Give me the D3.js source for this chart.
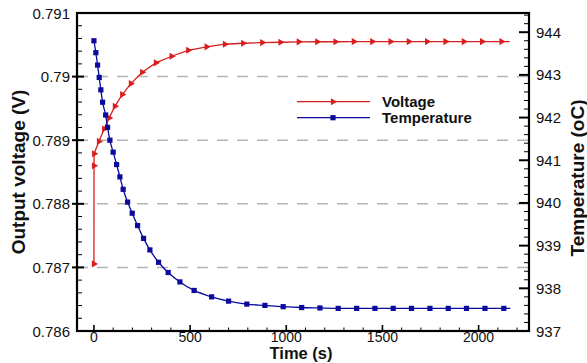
<!DOCTYPE html>
<html><head><meta charset="utf-8">
<script src="https://cdn.jsdelivr.net/npm/d3@7"></script>
<style>body{margin:0;background:#fff}svg{display:block}text{font-family:"Liberation Sans",Arial,sans-serif}</style>
</head><body><svg id="c" width="587" height="363"></svg>
<script>
// ---- data ----
const voltTime = [0, 0.5, 1, 26, 53, 79, 109, 147, 192, 251, 322, 404, 490, 586, 681, 776, 875, 970, 1065, 1161, 1256, 1351, 1447, 1542, 1637, 1732, 1828, 1923, 2018, 2119, 2162];
const voltage  = [0.787055, 0.788598, 0.788787, 0.788981, 0.789176, 0.78935, 0.789532, 0.789717, 0.78989, 0.790068, 0.790216, 0.79032, 0.790414, 0.790468, 0.790509, 0.790524, 0.790535, 0.79054, 0.790546, 0.790548, 0.790548, 0.79055, 0.79055, 0.79055, 0.79055, 0.79055, 0.79055, 0.79055, 0.79055, 0.79055, 0.79055];
const tempTime = [0, 10, 19, 27.5, 36, 45, 61, 71, 83, 100, 118, 135, 152, 175, 199, 227, 258, 291, 336, 386, 447, 521, 612, 700, 795, 889, 984, 1080, 1175, 1270, 1366, 1461, 1556, 1651, 1747, 1842, 1937, 2033, 2131, 2165];
const temperature = [943.80, 943.52, 943.23, 942.94, 942.65, 942.36, 942.06, 941.77, 941.47, 941.19, 940.90, 940.61, 940.32, 940.02, 939.76, 939.47, 939.17, 938.90, 938.61, 938.37, 938.15, 937.95, 937.80, 937.70, 937.63, 937.60, 937.57, 937.55, 937.54, 937.53, 937.53, 937.53, 937.53, 937.53, 937.53, 937.53, 937.53, 937.53, 937.53, 937.53];
const xTicks = [0, 500, 1000, 1500, 2000];
const vTicks = [0.786, 0.787, 0.788, 0.789, 0.79, 0.791];
const vTickLabels = ["0.786", "0.787", "0.788", "0.789", "0.79", "0.791"];
const tTicks = [937, 938, 939, 940, 941, 942, 943, 944];
const gridV = [0.787, 0.788, 0.789, 0.79];
const seriesNames = ["Voltage", "Temperature"];
const xLabel = "Time (s)", yLabel = "Output voltage (V)", y2Label = "Temperature (oC)";

// ---- layout ----
const L = 77, R = 529, T = 13, B = 331;
const red = "#d81e1e", blue = "#0a0a9e";
const svg = d3.select("#c");
const x = d3.scaleLinear().domain([-88, 2262]).range([L, R]);
const yV = d3.scaleLinear().domain([0.786, 0.791]).range([B, T]);
const yT = d3.scaleLinear().domain([937, 944.45]).range([B, T]);

// gridlines
svg.append("g").selectAll("line").data(gridV).join("line")
  .attr("x1", L).attr("x2", R).attr("y1", d => yV(d)).attr("y2", d => yV(d))
  .attr("stroke", "#b4b4b4").attr("stroke-width", 1.5).attr("stroke-dasharray", "11,9").attr("stroke-dashoffset", -20);

// axes (ticks)
const ax = svg.append("g").attr("stroke", "#000");
const xMinor = d3.range(0, 2300, 100).filter(v => x(v) > L + 1 && x(v) < R - 1);
ax.selectAll(".xm").data(xMinor).join("line")
  .attr("x1", d => x(d)).attr("x2", d => x(d)).attr("y1", B).attr("y2", d => xTicks.includes(d) ? B - 6 : B - 3.5).attr("stroke-width", d => xTicks.includes(d) ? 1.6 : 1);
const vMinor = d3.range(0, 26).map(i => 0.786 + i * 0.0002);
ax.selectAll(".vm").data(vMinor).join("line")
  .attr("x1", L).attr("x2", (d, i) => i % 5 === 0 ? L + 7 : L + 5).attr("y1", d => yV(d)).attr("y2", d => yV(d))
  .attr("stroke-width", (d, i) => i % 5 === 0 ? 2 : 1);
ax.selectAll(".vM").data(vTicks.slice(1, 5)).join("line")
  .attr("x1", L - 5).attr("x2", L).attr("y1", d => yV(d)).attr("y2", d => yV(d)).attr("stroke-width", 2);
const tMinor = d3.range(0, 38).map(i => 937 + i * 0.2).filter(v => yT(v) > T + 1);
ax.selectAll(".tm").data(tMinor).join("line")
  .attr("x1", (d, i) => i % 5 === 0 ? R - 10 : R - 5).attr("x2", R).attr("y1", d => yT(d)).attr("y2", d => yT(d))
  .attr("stroke-width", (d, i) => i % 5 === 0 ? 2 : 1);

// frame
svg.append("rect").attr("x", L).attr("y", T).attr("width", R - L).attr("height", B - T)
  .attr("fill", "none").attr("stroke", "#000").attr("stroke-width", 2.2);

// tick labels
const tl = svg.append("g").attr("font-size", 15).attr("fill", "#111");
tl.selectAll(".xl").data(xTicks).join("text").attr("x", d => x(d)).attr("y", 341.5).attr("font-size", 14).attr("text-anchor", "middle").text(d => d);
tl.selectAll(".vl").data(vTicks).join("text").attr("x", 70).attr("y", d => yV(d) + 5.5).attr("text-anchor", "end").text((d, i) => vTickLabels[i]);
tl.selectAll(".tl").data(tTicks).join("text").attr("x", 536).attr("y", d => yT(d) + 5.5).text(d => d);

// titles
svg.append("text").attr("x", 301).attr("y", 359.4).attr("text-anchor", "middle").attr("font-size", 16.5).attr("font-weight", "bold").attr("fill", "#111").text(xLabel);
svg.append("text").attr("transform", "translate(25,172) rotate(-90)").attr("text-anchor", "middle").attr("font-size", 19).attr("font-weight", "bold").attr("fill", "#111").text(yLabel);
svg.append("text").attr("transform", "translate(584,178) rotate(-90)").attr("text-anchor", "middle").attr("font-size", 19).attr("font-weight", "bold").attr("fill", "#111").text(y2Label);

// series
const vData = voltTime.map((t, i) => [t, voltage[i]]);
const tData = tempTime.map((t, i) => [t, temperature[i]]);
const lineV = d3.line().x(d => x(d[0])).y(d => yV(d[1]));
const lineT = d3.line().x(d => x(d[0])).y(d => yT(d[1])).curve(d3.curveMonotoneX);
svg.append("path").datum(vData).attr("d", lineV).attr("fill", "none").attr("stroke", red).attr("stroke-width", 1.3);
svg.append("path").datum(tData).attr("d", lineT).attr("fill", "none").attr("stroke", blue).attr("stroke-width", 1.3);
const tri = d3.symbol().type(d3.symbolTriangle).size(22);
svg.append("g").selectAll("path").data(vData.slice(0, -1)).join("path")
  .attr("d", tri).attr("transform", d => `translate(${x(d[0])},${yV(d[1])}) rotate(90)`).attr("fill", red);
svg.append("g").selectAll("rect").data(tData.slice(0, -1)).join("rect")
  .attr("x", d => x(d[0]) - 2.6).attr("y", d => yT(d[1]) - 2.6).attr("width", 5.2).attr("height", 5.2).attr("fill", blue);

// legend
const lg = svg.append("g");
const lgItems = [{n: seriesNames[0], c: red, y: 101.7}, {n: seriesNames[1], c: blue, y: 117.7}];
lg.selectAll("line").data(lgItems).join("line").attr("x1", 297).attr("x2", 370).attr("y1", d => d.y).attr("y2", d => d.y).attr("stroke", d => d.c).attr("stroke-width", 1.3);
lg.append("path").attr("d", tri).attr("transform", `translate(333,${lgItems[0].y}) rotate(90)`).attr("fill", red);
lg.append("rect").attr("x", 333 - 2.6).attr("y", lgItems[1].y - 2.6).attr("width", 5.2).attr("height", 5.2).attr("fill", blue);
lg.selectAll("text").data(lgItems).join("text").attr("x", 382).attr("y", d => d.y + 5).attr("font-size", 15).attr("font-weight", "bold").attr("fill", "#111").text(d => d.n);
</script></body></html>
